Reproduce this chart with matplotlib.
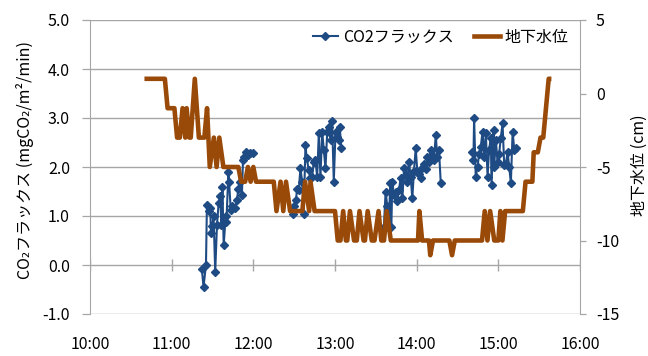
import matplotlib
matplotlib.use('Agg')
import matplotlib.pyplot as plt
from matplotlib.lines import Line2D
import numpy as np

plt.rcParams['font.family'] = ['Noto Sans CJK JP', 'DejaVu Sans']

# ---- CO2 flux sessions (minutes after 10:00, mgCO2/m2/min) ----
flux1_min = [82.2, 83.4, 85.2, 85.9, 87.2, 88.3, 88.9, 89.8, 90.8, 92.0, 93.3, 94.5, 95.7,
             96.5, 97.3, 98.2, 99.7, 100.2, 101.7, 102.2, 103.4, 104.1, 106.6, 107.9, 109.1,
             110.4, 111.6, 112.4, 113.4, 114.9, 115.8, 117.3, 119.8]
flux1_val = [-0.09, -0.45, 0.00, 1.22, 1.10, 1.16, 0.66, 0.80, 0.99, -0.14, 0.82, 1.26, 1.41,
             0.82, 1.60, 0.40, 1.00, 0.87, 1.90, 1.70, 1.12, 1.20, 1.16, 1.33, 1.56,
             1.70, 1.43, 2.14, 2.21, 2.31, 2.24, 2.28, 2.28]

flux2_min = [149.1, 150.2, 151.3, 152.2, 153.4, 154.6, 155.9, 157.0, 158.3, 159.2, 160.7,
             162.0, 163.2, 164.4, 165.6, 166.9, 168.1, 169.3, 170.6, 171.8, 173.0, 174.3,
             175.4, 176.7, 177.9, 179.1, 180.4, 181.6, 182.8, 183.5, 184.6]
flux2_val = [1.05, 1.20, 1.33, 1.56, 1.53, 1.97, 1.70, 1.05, 2.45, 2.18, 1.94,
             1.77, 1.80, 2.11, 2.14, 1.80, 2.69, 1.80, 2.72, 2.35, 1.97, 2.72,
             2.82, 2.55, 2.93, 1.70, 2.72, 2.62, 2.55, 2.82, 2.38]

flux3_min = [215.9, 217.2, 218.4, 219.6, 220.5, 221.4, 222.1, 223.3, 224.5, 225.8, 227.0,
             228.2, 229.5, 230.7, 231.9, 233.2, 234.3, 235.6, 236.8, 238.0, 239.3, 240.5,
             241.7, 243.0, 244.2, 245.4, 246.6, 247.9, 249.1, 250.3, 251.6, 252.7, 254.0,
             255.2, 256.4, 257.7]
flux3_val = [0.78, 1.50, 1.20, 0.75, 1.67, 0.77, 1.70, 1.43, 1.50, 1.30, 1.53,
             1.77, 1.36, 1.97, 1.84, 1.70, 2.11, 1.80, 1.36, 1.92, 2.38, 1.90,
             1.85, 1.77, 1.97, 2.07, 1.95, 2.20, 2.10, 2.35, 2.24, 2.14, 2.65,
             2.20, 2.35, 1.67]

flux4_min = [281.0, 281.7, 282.2, 283.4, 284.7, 285.9, 287.1, 288.4, 289.6, 290.8, 292.1,
             293.2, 294.5, 295.0, 296.5, 296.9, 298.2, 299.4, 300.6, 301.8, 303.1, 304.3,
             305.5, 306.8, 308.0, 309.2, 310.5, 311.7, 312.9]
flux4_val = [2.31, 2.14, 2.99, 1.80, 2.00, 2.27, 2.41, 2.72, 2.20, 2.69, 1.80,
             2.35, 2.59, 1.63, 2.76, 2.00, 2.55, 2.10, 2.27, 2.59, 2.89, 2.04,
             2.07, 2.30, 2.00, 1.67, 2.72, 2.35, 2.38]

# ---- groundwater level (minutes after 10:00, cm) ----
gw_min = [40, 55, 57, 62, 64, 66, 68, 70, 71, 73, 74, 77, 80, 84, 86, 88, 91, 93, 95, 98,
          109, 111, 114, 116, 118, 120, 122, 135, 137, 140, 142, 144, 147, 156, 158, 161,
          162, 165, 180, 182, 184, 186, 188, 189, 191, 194, 196, 198, 201, 202, 204, 207,
          209, 212, 214, 216, 218, 221, 241, 242, 244, 249, 250, 252, 264, 266, 268, 288,
          290, 292, 294, 297, 300, 301.5, 303, 305, 318, 320, 325, 326, 329, 331, 333, 336,
          337, 339]
gw_val = [1, 1, -1, -1, -3, -3, -1, -3, -1, -3, -3, 1, -3, -3, -1, -5, -3, -5, -3, -5,
          -5, -6, -6, -5, -6, -5, -6, -6, -8, -6, -8, -6, -8, -8, -6, -8,
          -6, -8, -8, -10, -10, -8, -10, -10, -8, -10, -10, -8, -10, -10, -8, -10,
          -10, -8, -10, -10, -8, -10, -10, -8, -10, -10, -11, -10, -10, -11, -10, -10,
          -8, -10, -8, -10, -10, -8, -10, -8, -8, -6, -6, -4, -4, -3, -3, 0,
          1, 1]

hour_ticks = [10, 11, 12, 13, 14, 15, 16]
hour_labels = ['10:00', '11:00', '12:00', '13:00', '14:00', '15:00', '16:00']
flux_ticks = [-1.0, 0.0, 1.0, 2.0, 3.0, 4.0, 5.0]
gw_ticks = [-15, -10, -5, 0, 5]

series_names = ['CO2フラックス', '地下水位']
flux_label = 'CO₂フラックス (mgCO₂/m²/min)'
gw_label = '地下水位 (cm)'

BLUE = '#1F4B85'
BROWN = '#9A4A08'
GRID = '#A6A6A6'
FS = 11.5

fig = plt.figure(figsize=(6.48, 3.56), dpi=100)
ax = fig.add_axes([90 / 648, 1 - 314 / 356, 490 / 648, 294 / 356])
ax2 = ax.twinx()

# flux sessions, separated by gaps
xs, ys = [], []
for mins, vals in [(flux1_min, flux1_val), (flux2_min, flux2_val),
                   (flux3_min, flux3_val), (flux4_min, flux4_val)]:
    xs += [10 + m / 60 for m in mins] + [np.nan]
    ys += list(vals) + [np.nan]
ax.plot(xs, ys, color=BLUE, lw=1.5, marker='D', ms=4.2, zorder=3)

ax2.plot([10 + m / 60 for m in gw_min], gw_val, color=BROWN, lw=3.3,
         solid_joinstyle='round', solid_capstyle='butt', zorder=3)

ax.set_xlim(10, 16)
ax.set_ylim(-1, 5)
ax2.set_ylim(-15, 5)

ax.set_yticks(flux_ticks, [f'{v:.1f}' for v in flux_ticks])
ax2.set_yticks(gw_ticks, [str(v) for v in gw_ticks])
ax.set_xticks(hour_ticks, hour_labels)

ax.grid(axis='y', color=GRID, lw=1.0)
ax.set_axisbelow(True)
ax.tick_params(axis='x', length=0, pad=16, labelsize=FS, colors='black')
ax.tick_params(axis='y', length=5.5, width=0.9, color=GRID, pad=9, labelsize=FS)
ax2.tick_params(axis='y', length=4.5, width=0.9, color=GRID, pad=7, labelsize=FS)

# x-axis tick marks crossing the 0.0 line
ax.vlines(hour_ticks, -0.12, 0.12, color=GRID, lw=1.0, zorder=2)

for a in (ax, ax2):
    for s in ('top', 'bottom'):
        a.spines[s].set_visible(False)
ax.spines['right'].set_visible(False)
ax2.spines['left'].set_visible(False)
ax.spines['left'].set_color(GRID)
ax2.spines['right'].set_color(GRID)

fig.text(25 / 648, 1 - 160 / 356, flux_label, rotation=90, ha='center', va='center', fontsize=FS)
fig.text(639 / 648, 1 - 165 / 356, gw_label, rotation=90, ha='center', va='center', fontsize=FS)

handles = [Line2D([], [], color=BLUE, lw=1.5, marker='D', ms=4.2),
           Line2D([], [], color=BROWN, lw=3.3)]
ax2.legend(handles, series_names, loc='center right', bbox_to_anchor=(0.99, 0.942),
           ncol=2, frameon=False, fontsize=FS, handlelength=1.6, handletextpad=0.3,
           columnspacing=1.3, borderaxespad=0)

fig.savefig('out.png', dpi=100)
